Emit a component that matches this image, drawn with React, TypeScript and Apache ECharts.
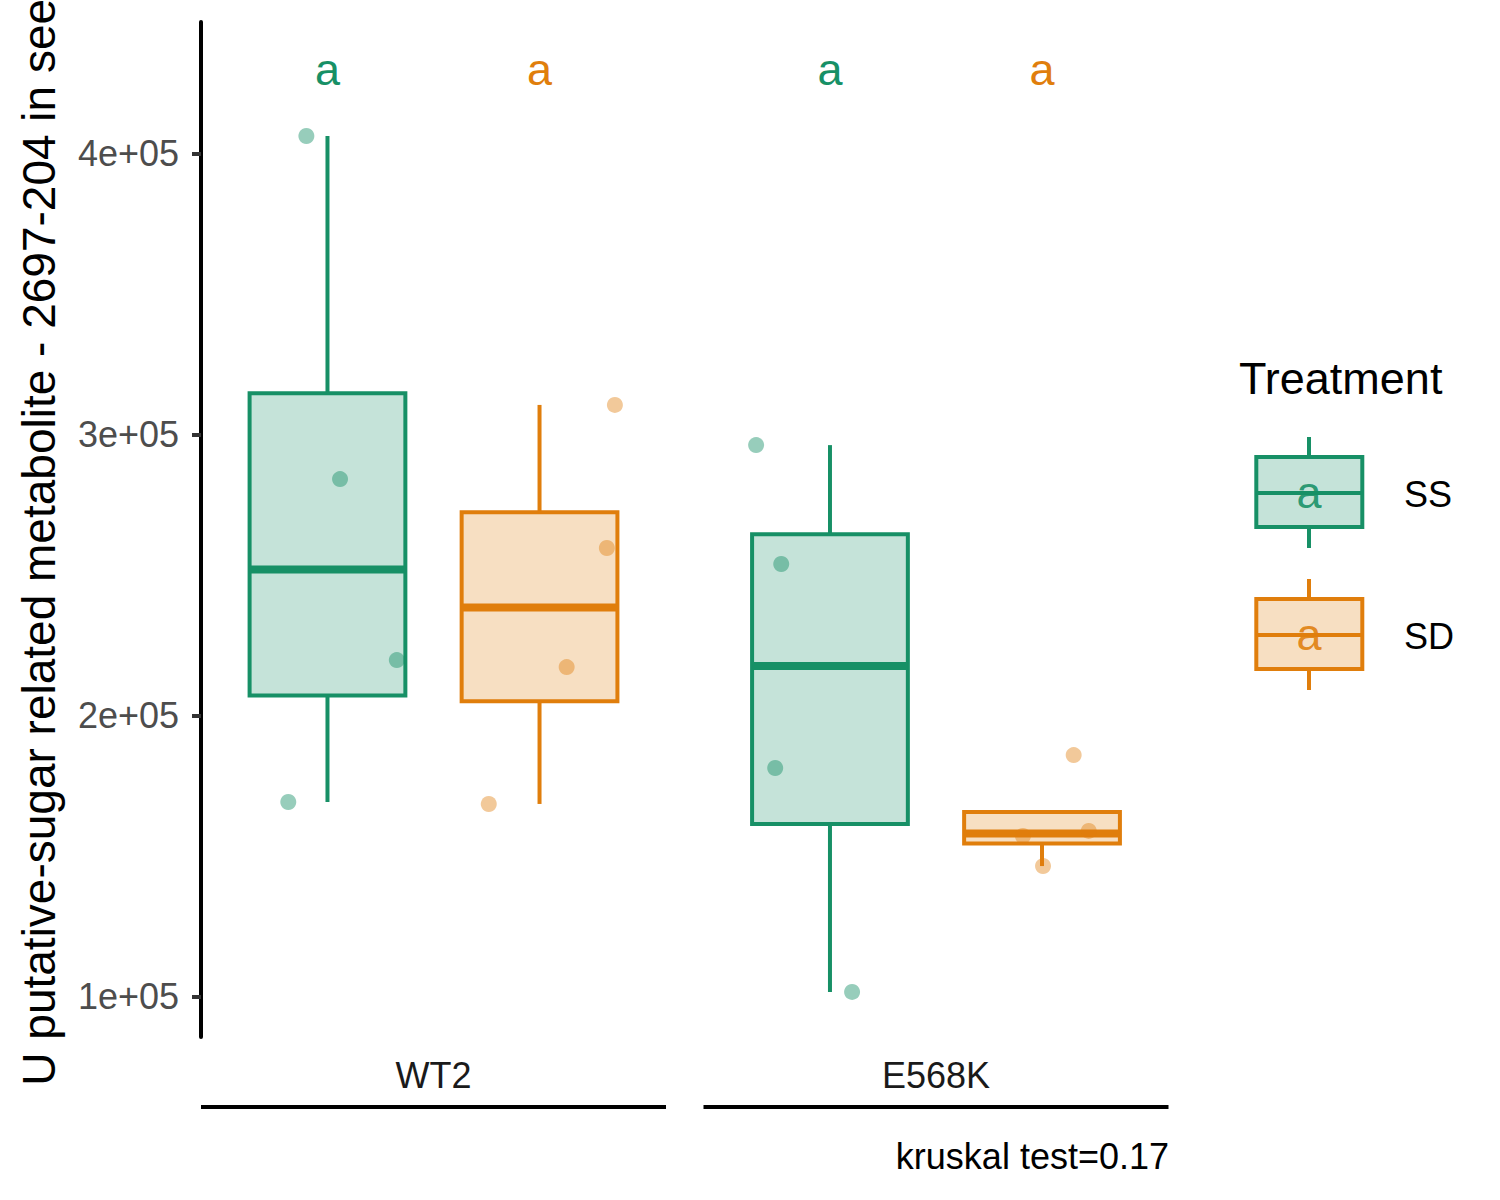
import React, { useEffect, useRef } from "react";
import * as echarts from "echarts";

// ---------------- data ----------------
const groups = ["WT2", "E568K"];
const treatments = ["SS", "SD"];
// measured values per group (WT2, E568K)
const ssValues = [
  [406400, 284300, 219900, 169400],
  [296400, 254100, 181500, 101800],
];
const sdValues = [
  [310700, 259800, 217400, 168700],
  [186100, 159100, 157300, 146600],
];
// jittered x positions of the points (category units, WT2 = 1, E568K = 2)
const ssJitterX = [
  [0.747, 0.814, 0.927, 0.711],
  [1.642, 1.692, 1.68, 1.833],
];
const sdJitterX = [
  [1.361, 1.345, 1.265, 1.11],
  [2.274, 2.304, 2.173, 2.213],
];
const ssLetters = ["a", "a"];
const sdLetters = ["a", "a"];
const letterY = 430000;
const yTicks = [100000, 200000, 300000, 400000];
const yTickLabels = ["1e+05", "2e+05", "3e+05", "4e+05"];
const yTitle = "U putative-sugar related metabolite - 2697-204 in seed";
const legendTitle = "Treatment";
const kruskalText = "kruskal test=0.17";

// ---------------- styling ----------------
const FONT = "'Liberation Sans', Arial, Helvetica, sans-serif";
const GREEN = "#179066";
const ORANGE = "#E07E0C";
const GREEN_FILL = "rgba(23,144,102,0.25)";
const ORANGE_FILL = "rgba(224,126,12,0.25)";
const GREEN_PT = "rgba(23,144,102,0.56)";
const ORANGE_PT = "rgba(224,126,12,0.52)";
const DODGE = 0.211;
const BOX_W = 0.31;
const LW = 4;

const yMin = 85765;
const yMax = 446975;

function quantile(sorted: number[], p: number) {
  const h = (sorted.length - 1) * p;
  const lo = Math.floor(h);
  const hi = Math.ceil(h);
  return sorted[lo] + (h - lo) * (sorted[hi] - sorted[lo]);
}
function boxStats(vals: number[]) {
  const s = [...vals].sort((a, b) => a - b);
  const q1 = quantile(s, 0.25);
  const q2 = quantile(s, 0.5);
  const q3 = quantile(s, 0.75);
  const iqr = q3 - q1;
  const inside = s.filter((v) => v >= q1 - 1.5 * iqr && v <= q3 + 1.5 * iqr);
  const lo = Math.min(q1, ...inside);
  const hi = Math.max(q3, ...inside);
  return [lo, q1, q2, q3, hi];
}

function boxSeries(name: string, values: number[][], dodge: number, color: string, fill: string) {
  return {
    name,
    type: "custom",
    data: values.map((v, i) => [i + 1, ...boxStats(v)]),
    encode: { x: 0, y: [1, 2, 3, 4, 5] },
    renderItem: (params: any, api: any) => {
      const xc = api.value(0) + dodge;
      const lo = api.value(1);
      const q1 = api.value(2);
      const q2 = api.value(3);
      const q3 = api.value(4);
      const hi = api.value(5);
      const pHi = api.coord([xc, hi]);
      const pQ3 = api.coord([xc, q3]);
      const pQ1 = api.coord([xc, q1]);
      const pLo = api.coord([xc, lo]);
      const tl = api.coord([xc - BOX_W / 2, q3]);
      const br = api.coord([xc + BOX_W / 2, q1]);
      const mL = api.coord([xc - BOX_W / 2, q2]);
      const mR = api.coord([xc + BOX_W / 2, q2]);
      return {
        type: "group",
        children: [
          { type: "line", shape: { x1: pHi[0], y1: pHi[1], x2: pQ3[0], y2: pQ3[1] }, style: { stroke: color, lineWidth: LW } },
          { type: "line", shape: { x1: pQ1[0], y1: pQ1[1], x2: pLo[0], y2: pLo[1] }, style: { stroke: color, lineWidth: LW } },
          {
            type: "rect",
            shape: { x: tl[0], y: tl[1], width: br[0] - tl[0], height: br[1] - tl[1] },
            style: { fill, stroke: color, lineWidth: LW },
          },
          { type: "line", shape: { x1: mL[0], y1: mL[1], x2: mR[0], y2: mR[1] }, style: { stroke: color, lineWidth: LW * 2 } },
        ],
      };
    },
    z: 2,
  };
}

function pointSeries(name: string, values: number[][], xs: number[][], color: string) {
  const data: number[][] = [];
  values.forEach((g, gi) => g.forEach((v, j) => data.push([xs[gi][j], v])));
  return {
    name: name + " points",
    type: "scatter",
    data,
    symbol: "circle",
    symbolSize: 16,
    itemStyle: { color },
    z: 3,
  };
}

function letterSeries(letters: string[], dodge: number, color: string) {
  return {
    type: "custom",
    data: letters.map((l, i) => [i + 1, letterY]),
    encode: { x: 0, y: 1 },
    renderItem: (params: any, api: any) => {
      const p = api.coord([api.value(0) + dodge, api.value(1)]);
      return {
        type: "text",
        x: p[0],
        y: p[1],
        style: {
          text: letters[params.dataIndex],
          fill: color,
          font: `45px ${FONT}`,
          align: "center",
          verticalAlign: "middle",
        },
      };
    },
    z: 4,
  };
}

const underlineSeries = {
  type: "custom",
  data: groups.map((g, i) => [i + 1, 0]),
  encode: { x: 0 },
  renderItem: (params: any, api: any) => {
    const g = api.value(0);
    const a = api.coord([g - 0.4627, yMin]);
    const b = api.coord([g + 0.4627, yMin]);
    return {
      type: "line",
      shape: { x1: a[0], y1: a[1] + 70, x2: b[0], y2: b[1] + 70 },
      style: { stroke: "#000", lineWidth: 4 },
    };
  },
  z: 1,
};

function legendKey(y0: number, color: string, fill: string, label: string): any[] {
  // y0 = box top
  const cx = 1309;
  const h = 70;
  return [
    { type: "line", shape: { x1: cx, y1: y0 - 20, x2: cx, y2: y0 }, style: { stroke: color, lineWidth: LW } },
    { type: "line", shape: { x1: cx, y1: y0 + h, x2: cx, y2: y0 + h + 21 }, style: { stroke: color, lineWidth: LW } },
    { type: "rect", shape: { x: 1256.3, y: y0, width: 106, height: h }, style: { fill, stroke: color, lineWidth: LW } },
    { type: "line", shape: { x1: 1256.3, y1: y0 + 36, x2: 1362.3, y2: y0 + 36 }, style: { stroke: color, lineWidth: LW } },
    {
      type: "text",
      x: cx,
      y: y0 + 35.5,
      style: { text: "a", fill: color, font: `45px ${FONT}`, align: "center", verticalAlign: "middle", opacity: 0.9 },
    },
    {
      type: "text",
      x: 1404,
      y: y0 + 37,
      style: { text: label, fill: "#000", font: `36px ${FONT}`, align: "left", verticalAlign: "middle" },
    },
  ];
}

export default function App() {
  const ref = useRef<HTMLDivElement>(null);
  useEffect(() => {
    document.body.style.margin = "0";
    if (!ref.current) return;
    const chart = echarts.init(ref.current, null, { renderer: "svg" });
    const option: any = {
      animation: false,
      textStyle: { fontFamily: FONT },
      grid: {
        left: 201,
        right: 331,
        top: 22,
        bottom: 163,
        containLabel: false,
        outerBoundsMode: "none",
      },
      xAxis: {
        type: "value",
        min: 0.5373,
        max: 2.4637,
        axisLine: { show: false },
        axisTick: { show: false },
        splitLine: { show: false },
        axisLabel: {
          customValues: [1, 2],
          formatter: (v: number) => groups[Math.round(v) - 1] || "",
          fontSize: 36,
          color: "#1A1A1A",
          fontFamily: FONT,
          margin: 20,
        },
      },
      yAxis: {
        type: "value",
        min: yMin,
        max: yMax,
        name: yTitle,
        nameLocation: "middle",
        nameRotate: 90,
        nameGap: 139,
        nameTextStyle: { fontSize: 46, color: "#000", fontFamily: FONT },
        axisLine: { show: true, lineStyle: { color: "#000", width: 4 } },
        axisTick: { show: true, length: 9, lineStyle: { color: "#333", width: 4 }, customValues: yTicks },
        splitLine: { show: false },
        axisLabel: {
          customValues: yTicks,
          formatter: (v: number) => {
            const i = yTicks.indexOf(v);
            return i >= 0 ? yTickLabels[i] : "";
          },
          fontSize: 36,
          color: "#4D4D4D",
          fontFamily: FONT,
          margin: 22,
        },
      },
      series: [
        underlineSeries,
        boxSeries(treatments[0], ssValues, -DODGE, GREEN, GREEN_FILL),
        boxSeries(treatments[1], sdValues, DODGE, ORANGE, ORANGE_FILL),
        pointSeries(treatments[0], ssValues, ssJitterX, GREEN_PT),
        pointSeries(treatments[1], sdValues, sdJitterX, ORANGE_PT),
        letterSeries(ssLetters, -DODGE, GREEN),
        letterSeries(sdLetters, DODGE, ORANGE),
      ],
      graphic: [
        {
          type: "text",
          x: 1239,
          y: 378,
          style: { text: legendTitle, fill: "#000", font: `45px ${FONT}`, align: "left", verticalAlign: "middle" },
        },
        ...legendKey(457, GREEN, GREEN_FILL, treatments[0]),
        ...legendKey(599, ORANGE, ORANGE_FILL, treatments[1]),
        {
          type: "text",
          x: 1169,
          y: 1156.5,
          style: { text: kruskalText, fill: "#000", font: `36px ${FONT}`, align: "right", verticalAlign: "middle" },
        },
      ],
    };
    chart.setOption(option);
    return () => chart.dispose();
  }, []);
  return <div ref={ref} style={{ width: 1500, height: 1200 }} />;
}
